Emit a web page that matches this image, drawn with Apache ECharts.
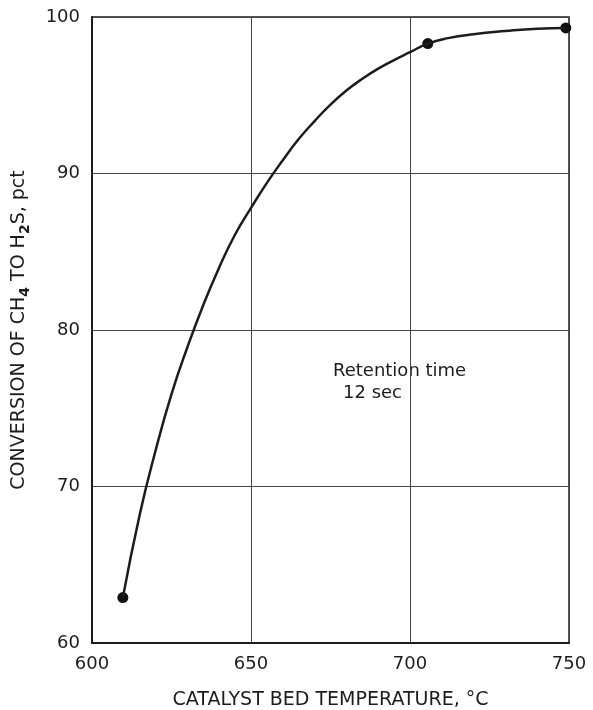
<!DOCTYPE html>
<html>
<head>
<meta charset="utf-8">
<title>CH4 conversion</title>
<script src="https://cdn.jsdelivr.net/npm/echarts@6/dist/echarts.min.js"></script>
</head>
<body style="margin:0">
<div id="main" style="width: 593px; height: 710px;"></div>
<script type="text/javascript">

// measured points (temperature, conversion %)
var pointTemp = [609.7, 705.6, 749];
var pointConv = [62.9, 98.3, 99.3];

// hand-drawn curve, read along its length
var curveTemp = [609.7, 615, 620, 625, 630, 635, 640, 645, 650, 655, 660, 665, 670, 675, 680, 685, 690, 695, 700, 705.6, 712, 720, 730, 740, 749];
var curveConv = [62.9, 68.2, 72.3, 75.9, 78.9, 81.6, 84.0, 86.1, 87.8, 89.4, 90.85, 92.2, 93.35, 94.4, 95.3, 96.05, 96.7, 97.25, 97.75, 98.3, 98.65, 98.9, 99.1, 99.25, 99.3];

var xTicks = [600, 650, 700, 750];
var yTicks = [60, 70, 80, 90, 100];

var ink = '#1c1c1c';
var font = 'DejaVu Sans';

var chartDom = document.getElementById('main');
var myChart = echarts.init(chartDom);
var option;

option = {
  animation: false,
  backgroundColor: '#fff',
  grid: {
    left: 92, right: 24, top: 17, bottom: 67,
    outerBoundsMode: 'none',
    show: true, borderColor: ink, borderWidth: 1.5
  },
  xAxis: {
    type: 'value',
    min: xTicks[0], max: xTicks[xTicks.length - 1], interval: 50,
    name: 'CATALYST BED TEMPERATURE, °C',
    nameLocation: 'middle', nameGap: 48,
    nameTextStyle: { color: ink, fontFamily: font, fontSize: 19 },
    axisLine: { lineStyle: { color: ink, width: 2 } },
    axisTick: { show: false },
    axisLabel: { color: ink, fontFamily: font, fontSize: 18, margin: 12 },
    splitLine: { lineStyle: { color: '#444', width: 1 } }
  },
  yAxis: {
    type: 'value',
    min: yTicks[0], max: yTicks[yTicks.length - 1], interval: 10,
    name: '{t|CONVERSION OF CH}{s|4}{t| TO H}{s|2}{t|S, pct}',
    nameLocation: 'middle', nameGap: 60,
    nameTextStyle: {
      color: ink, fontFamily: font, fontSize: 19,
      rich: {
        t: { fontFamily: font, fontSize: 19, lineHeight: 22, color: ink, verticalAlign: 'top' },
        s: { fontFamily: font, fontSize: 14, lineHeight: 16, color: ink, fontWeight: 'bold', padding: [8, 0, 0, 0], verticalAlign: 'top' }
      }
    },
    axisLine: { show: true, lineStyle: { color: ink, width: 2 } },
    axisTick: { show: false },
    axisLabel: { color: ink, fontFamily: font, fontSize: 18, margin: 12 },
    splitLine: { lineStyle: { color: '#444', width: 1 } }
  },
  graphic: [
    {
      type: 'text', left: 333, top: 362,
      style: { text: 'Retention time', fill: ink, font: '18px "DejaVu Sans"' }
    },
    {
      type: 'text', left: 343, top: 384,
      style: { text: '12 sec', fill: ink, font: '18px "DejaVu Sans"' }
    }
  ],
  series: [
    {
      type: 'line',
      smooth: true,
      showSymbol: false,
      lineStyle: { color: ink, width: 2.5 },
      data: curveTemp.map(function (t, i) { return [t, curveConv[i]]; })
    },
    {
      type: 'scatter',
      symbolSize: 11,
      itemStyle: { color: '#111', opacity: 1 },
      data: pointTemp.map(function (t, i) { return [t, pointConv[i]]; })
    }
  ]
};

option && myChart.setOption(option);
</script>
</body>
</html>
